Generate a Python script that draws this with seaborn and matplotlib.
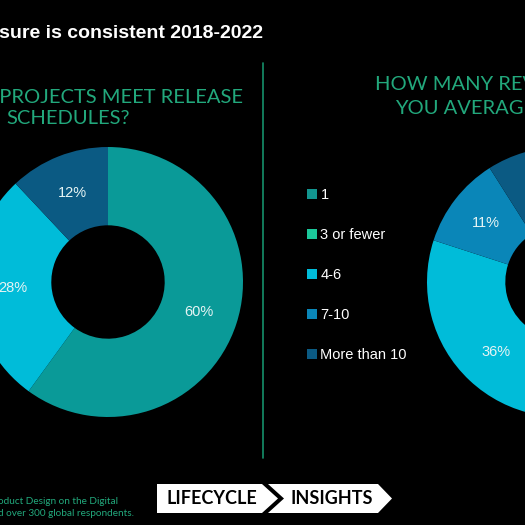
#!/usr/bin/env python
# -*- coding: UTF-8 -*-

# Import Modules
import matplotlib
matplotlib.use("Agg")
import matplotlib.pyplot as plt
import seaborn as sns
from matplotlib.patches import Polygon
from matplotlib.lines import Line2D


# Chart data
release_labels = ["Yes", "Sometimes", "No"]
release_values = [60, 28, 12]
release_colors = ["#0a9a98", "#00bcd9", "#0b5a83"]

rev_labels = ["1", "3 or fewer", "4-6", "7-10", "More than 10"]
rev_values = [8, 36, 36, 11, 9]
rev_colors = ["#12958f", "#1bc79a", "#00bcd9", "#0a86b8", "#0b5a83"]

GREEN = "#22a87c"
W = H = 525


def px(x, y):
    """pixel (top-left origin) -> figure fraction"""
    return x / W, 1 - y / H


def donut(fig, cx, cy, r, values, colors):
    ax = fig.add_axes([(cx - r) / W, 1 - (cy + r) / H, 2 * r / W, 2 * r / H])
    wedges, _, autotexts = ax.pie(
        values, colors=colors, startangle=90, counterclock=False,
        autopct="%d%%", pctdistance=0.71, radius=1,
        wedgeprops=dict(width=0.58, linewidth=0),
        textprops=dict(color="#e6f4f4", fontsize=10.5, family="Liberation Sans"))
    ax.set_xlim(-1, 1)
    ax.set_ylim(-1, 1)
    ax.set_aspect("equal")
    ax.axis("off")
    return ax, wedges


sns.set_theme(style="dark", rc={"figure.facecolor": "black", "axes.facecolor": "black"})
plt.rcParams["font.family"] = ["Liberation Sans", "DejaVu Sans"]

fig = plt.figure(figsize=(5.25, 5.25), dpi=100)
fig.patch.set_facecolor("black")

# Title (slide is cropped on the left)
fig.text(*px(-1, 33), "sure is consistent 2018-2022", color="white",
         fontsize=14, fontweight="bold", va="center", ha="left")

# Question titles
qkw = dict(color=GREEN, fontsize=14.5, family="Lato", va="center", ha="left")
fig.text(*px(-6, 96), "(PROJECTS MEET RELEASE", **qkw)
fig.text(*px(6, 119), "SCHEDULES?", **qkw)
fig.text(*px(375, 85), "HOW MANY REVISIONS", **qkw)
fig.text(*px(395, 108), "YOU AVERAGE", **qkw)

# Divider
fig.add_artist(Line2D([263 / W, 263 / W], [1 - 63 / H, 1 - 458 / H],
                      color="#15906a", lw=1.2))

# Donuts
donut(fig, 108, 282, 135, release_values, release_colors)
donut(fig, 562, 282, 135, rev_values, rev_colors)

# Legend for right donut
handles = [Line2D([], [], marker="s", linestyle="", markersize=6.5,
                  markerfacecolor=c, markeredgewidth=0) for c in rev_colors]
fig.legend(handles, rev_labels, loc="upper left",
           bbox_to_anchor=px(300, 182), frameon=False,
           fontsize=10.5, labelcolor="white", handletextpad=0.1,
           handlelength=0.9, labelspacing=1.78, borderaxespad=0)

# Footer note
fig.text(*px(-2, 502), "oduct Design on the Digital", color=GREEN,
         fontsize=7.2, family="Lato", va="center", ha="left")
fig.text(*px(-2, 514), "d over 300 global respondents.", color=GREEN,
         fontsize=7.2, family="Lato", va="center", ha="left")

# Logo
box1 = [(157, 484), (262, 484), (278, 498.5), (262, 513), (157, 513)]
box2 = [(268, 484), (378, 484), (392, 498.5), (378, 513), (268, 513), (284, 498.5)]
for pts in (box1, box2):
    fig.add_artist(Polygon([px(x, y) for x, y in pts], closed=True,
                           facecolor="white", edgecolor="none"))
fig.text(*px(212, 499), "LIFECYCLE", color="black", fontsize=13,
         family="Lato", fontweight="bold", va="center", ha="center")
fig.text(*px(332, 499), "INSIGHTS", color="black", fontsize=13,
         family="Lato", fontweight="bold", va="center", ha="center")

fig.savefig("out.png", dpi=100, facecolor="black")
